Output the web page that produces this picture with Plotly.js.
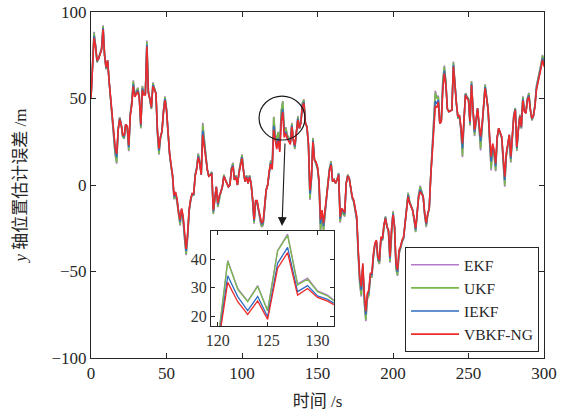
<!DOCTYPE html>
<html>
<head>
<meta charset="utf-8">
<script src="https://cdn.plot.ly/plotly-3.0.1.min.js"></script>
<style>html,body{margin:0;padding:0;background:#fff;}#chart{width:571px;height:416px;}</style>
</head>
<body>
<div id="chart"></div>
<script>
// time stamps (s), one sample per second, 0..300
const timeStart = 0, timeEnd = 300;
const timeSec = [];
for (let k = timeStart; k <= timeEnd; k++) timeSec.push(k);

const seriesNames = ['EKF', 'UKF', 'IEKF', 'VBKF-NG'];
const xTicks = [0, 50, 100, 150, 200, 250, 300];
const yTicks = [-100, -50, 0, 50, 100];
const insetXTicks = [120, 125, 130];
const insetYTicks = [20, 30, 40];

const vbkfNG = [
 50,72,85,80,72,73,75,78,90,75,
 68,72,60,50,42,30,22,18,32,38,
 35,29,29,35,34,23,40,46,57,51,
 53,54,50,35,55,52,52,80,53,50,
 45,57,55,53,32,21,28,31,42,49,
 43,30,19,12,6,-6,-4,-8,-16,-20,
 -13.5,-18,-28,-37,-28,-14,-8,-5,-5,5,
 9,16,12.5,6,29,22,14,9,5,6,
 6.5,-14.5,-6,-1,-10.5,-6,-4,-1,4.8,3,
 1,-1,0,8.7,10.6,3,4.5,0,6.7,11,
 15.4,7.7,2,4.5,1,4.5,1,-7.7,-20,-9,
 -9,-14,-19,-22,-21,-13,-3,0,8,12,
 9,31.9,25.2,20.8,25.5,19.1,36.8,42.2,27.5,29.8,
 26.7,25.4,23.5,33.7,26,23,30,37.6,32.8,35.6,
 45.3,47.2,35.6,33.7,24,-3,4.8,25,14.5,13.5,
 10.6,2.9,-20,-14.5,-22,-14.5,-5,3,8.7,11.6,
 2,3,1,3,5.8,-18.3,-13.5,-14.5,-16,1,
 4.8,4,-3,-6.7,-8.7,-13,-18.3,-37.6,-53,-58.8,
 -45.3,-62.6,-73,-62.6,-60.7,-51,-51,-40,-33.7,-31.8,
 -41.4,-43.4,-30,-31,-23,-19.3,-24,-26,-41.4,-26,
 -17.3,-24,-45.3,-49,-37.6,-35.6,-31.8,-30,-22,-16.4,
 -6.7,-10.6,-12.5,-14.5,-19.3,-25,-16.4,-6.7,-3.9,-5,
 -6.7,-16.4,-22,-16.4,-13.5,4.8,20.2,30,45.3,45,
 48,35.6,36.6,55,64.5,57.8,44,42.4,43,43.4,
 68.4,56.8,47.2,39.5,40.5,33.7,24,37.6,52,50,
 49,36.6,57.8,43.4,31.8,37.6,44.3,35.6,28,35,
 45,55.9,50,43.4,28,16.4,24,20.2,12.5,28,
 32.8,30,28,16.4,4.8,18.3,25,29,16.4,26,
 39.5,43.4,22,32,39.5,33.7,49,42.4,41.5,49,
 51,43.4,38.5,40,45.3,55,58.8,62.6,67.4,72.3,
 68.4
];

const ukf = [
 50,73,88,81,71,73,76,79,92,75,
 67,72,60,49,41,28,18,13,32,39,
 35,28,27,35,33,20,41,48,60,52,
 54,56,51,33,57,53,53,83,54,50,
 44,59,56,53,30,18,27,31,43,51,
 44,30,18,11,5,-8,-5,-10,-18,-23,
 -14.5,-20,-31,-40,-30,-15,-9,-5,-6,6,
 10,18,13.5,6,35,25,15,9,5,6,
 7.5,-16.5,-7,-1,-12.5,-7,-4,-1,5.8,3,
 1,-1,0,9.7,12.6,3,5.5,0,7.7,12,
 17.4,8.7,2,5.5,1,5.5,1,-8.7,-22,-10,
 -10,-15,-21,-24,-23,-14,-3,0,9,14,
 11,39.2,29.5,25.2,30.5,22,42.8,48.2,31,33,
 28.7,27.2,24.5,35.7,26,21,30,39.6,32.8,36.6,
 47.3,49.2,35.6,33.7,23,-8,3.8,27,14.5,12.5,
 9.6,0.9,-26,-17.5,-26,-16.5,-6,3,9.7,13.6,
 2,3,1,3,6.8,-21.3,-15.5,-16.5,-18,1,
 5.8,4,-3,-7.7,-9.7,-15,-20.3,-40.6,-57,-63.8,
 -47.3,-67.6,-78,-65.6,-63.7,-53,-53,-42,-34.7,-32.8,
 -43.4,-45.4,-31,-32,-23,-18.3,-24,-27,-44.4,-26,
 -15.3,-24,-48.3,-52,-39.6,-36.6,-32.8,-31,-22,-16.4,
 -4.7,-9.6,-12.5,-14.5,-20.3,-27,-16.4,-5.7,-0.9,-4,
 -6.7,-17.4,-24,-17.4,-13.5,5.8,22.2,33,53.3,50,
 51,35.6,37.6,60,68.5,59.8,44,42.4,43,43.4,
 70.9,57.8,47.2,38.5,39.5,31.7,17,36.6,53,51,
 50,34.6,59.8,43.4,28.8,36.6,44.3,33.6,21,33,
 45,57.9,51,43.4,25,9.4,21,17.2,8.5,27,
 32.8,30,27,13.4,-0.2,16.3,24,29,13.4,25,
 40.5,44.4,20,32,40.5,32.7,51,43.4,41.5,50,
 53,43.4,37.5,40,46.3,57,60.8,64.6,69.4,74.8,
 71.4
];

const iekf = [
 50,72.4,86.2,80.4,71.6,73,75.4,78.4,90.8,75,
 67.6,72,60,49.6,41.6,29.2,20.4,16,32,38.4,
 35,28.6,28.2,35,33.6,21.8,40.4,46.8,58.2,51.4,
 53.4,54.8,50.4,34.2,55.8,52.4,52.4,81.2,53.4,50,
 44.6,57.8,55.4,53,31.2,19.8,27.6,31,42.4,49.8,
 43.4,30,18.6,11.6,5.6,-6.8,-4.4,-8.8,-16.8,-21.2,
 -13.9,-18.8,-29.2,-38.2,-28.8,-14.4,-8.4,-5,-5.4,5.4,
 9.4,16.8,12.9,6,31.4,23.2,14.4,9,5,6,
 6.9,-15.3,-6.4,-1,-11.3,-6.4,-4,-1,5.2,3,
 1,-1,0,9.1,11.4,3,4.9,0,7.1,11.4,
 16.2,8.1,2,4.9,1,4.9,1,-8.1,-20.8,-9.4,
 -9.4,-14.4,-19.8,-22.8,-21.8,-13.4,-3,0,8.4,12.8,
 9.8,34.2,27,22.1,27,20,38.5,44,28.7,30.8,
 27.2,26,24,34.5,26,22.2,30,38.4,32.8,36,
 46.1,48,35.6,33.7,23.6,-5,4.4,25.8,14.5,13.1,
 10.2,2.1,-22.4,-15.7,-23.6,-15.3,-5.4,3,9.1,12.4,
 2,3,1,3,6.2,-19.5,-14.3,-15.3,-16.8,1,
 5.2,4,-3,-7.1,-9.1,-13.8,-19.1,-38.8,-54.6,-60.8,
 -46.1,-64.6,-75,-63.8,-61.9,-51.8,-51.8,-40.8,-34.1,-32.2,
 -42.2,-44.2,-30.4,-31.4,-23,-18.9,-24,-26.4,-42.6,-26,
 -16.5,-24,-46.5,-50.2,-38.4,-36,-32.2,-30.4,-22,-16.4,
 -5.9,-10.2,-12.5,-14.5,-19.7,-25.8,-16.4,-6.3,-2.7,-4.6,
 -6.7,-16.8,-22.8,-16.8,-13.5,5.2,21,31.2,48.5,47,
 49.2,35.6,37,57,66.1,58.6,44,42.4,43,43.4,
 69.4,57.2,47.2,39.1,40.1,32.9,21.2,37.2,52.4,50.4,
 49.4,35.8,58.6,43.4,30.6,37.2,44.3,34.8,25.2,34.2,
 45,56.7,50.4,43.4,26.8,13.6,22.8,19,10.9,27.6,
 32.8,30,27.6,15.2,2.8,17.5,24.6,29,15.2,25.6,
 39.9,43.8,21.2,32,39.9,33.3,49.8,42.8,41.5,49.4,
 51.8,43.4,38.1,40,45.7,55.8,59.6,63.4,68.2,73.3,
 69.6
];

const ekf = [
 50,73.2,88.5,81.2,70.8,73,76.2,79.2,92.3,75,
 66.8,72,60,48.8,40.8,27.7,17.4,12.3,32,39.2,
 35,27.8,26.7,35,32.8,19.5,41.2,48.3,60.5,52.2,
 54.2,56.3,51.2,32.7,57.3,53.2,53.2,83.5,54.2,50,
 43.8,59.3,56.2,53,29.7,17.5,26.8,31,43.2,51.3,
 44.2,30,17.8,10.8,4.8,-8.3,-5.2,-10.3,-18.3,-23.5,
 -14.7,-20.3,-31.5,-40.5,-30.3,-15.2,-9.2,-5,-6.2,6.2,
 10.2,18.3,13.7,6,35.9,25.5,15.2,9,5,6,
 7.7,-16.8,-7.2,-1,-12.8,-7.2,-4,-1,6,3,
 1,-1,0,9.9,12.9,3,5.7,0,7.9,12.2,
 17.7,8.9,2,5.7,1,5.7,1,-8.9,-22.3,-10.2,
 -10.2,-15.2,-21.3,-24.3,-23.3,-14.2,-3,0,9.2,14.3,
 11.3,39.5,29.8,25.4,30.8,22.2,43,48.6,31.4,33.4,
 29,27.5,24.8,36,26,20.7,30,39.9,32.8,36.8,
 47.6,49.5,35.6,33.7,22.8,-8.7,3.6,27.3,14.5,12.3,
 9.4,0.6,-26.9,-18,-26.6,-16.8,-6.2,3,9.9,13.9,
 2,3,1,3,7,-21.8,-15.8,-16.8,-18.3,1,
 6,4,-3,-7.9,-9.9,-15.3,-20.6,-41.1,-57.6,-64.5,
 -47.6,-68.3,-78.7,-66,-64.1,-53.3,-53.3,-42.3,-34.9,-33,
 -43.7,-45.7,-31.2,-32.2,-23,-18.1,-24,-27.2,-44.9,-26,
 -15,-24,-48.8,-52.5,-39.9,-36.8,-33,-31.2,-22,-16.4,
 -4.4,-9.4,-12.5,-14.5,-20.5,-27.3,-16.4,-5.5,-0.4,-3.8,
 -6.7,-17.6,-24.3,-17.6,-13.5,6,22.5,33.5,54.5,50.8,
 51.5,35.6,37.8,60.8,69.1,60.1,44,42.4,43,43.4,
 71.3,58,47.2,38.3,39.3,31.4,16,36.4,53.2,51.2,
 50.2,34.3,60.1,43.4,28.3,36.4,44.3,33.3,20,32.7,
 45,58.2,51.2,43.4,24.5,8.4,20.5,16.7,7.9,26.8,
 32.8,30,26.8,12.9,-1,16,23.8,29,12.9,24.8,
 40.7,44.6,19.7,32,40.7,32.5,51.3,43.6,41.5,50.2,
 53.3,43.4,37.3,40,46.5,57.3,61.1,64.9,69.7,75.2,
 71.9
];

const colors = ['#B27AC9', '#77B94A', '#2E6DC1', '#EE2A2A'];
const seriesData = [ekf, ukf, iekf, vbkfNG];

const traces = [];
seriesData.forEach((ys, i) => {
  traces.push({x: timeSec, y: ys, type: 'scatter', mode: 'lines', name: seriesNames[i],
    line: {color: colors[i], width: 1.6}, xaxis: 'x', yaxis: 'y'});
});
seriesData.forEach((ys, i) => {
  traces.push({x: timeSec, y: ys, type: 'scatter', mode: 'lines', name: seriesNames[i],
    showlegend: false, line: {color: colors[i], width: 1.3}, xaxis: 'x2', yaxis: 'y2'});
});

const axisCommon = {
  showline: true, linecolor: '#262626', linewidth: 1, mirror: 'ticks',
  ticks: 'inside', ticklen: 5, tickwidth: 1, tickcolor: '#262626',
  showgrid: false, zeroline: false, tickfont: {size: 17, color: '#262626'}
};

const layout = {
  width: 571, height: 416,
  margin: {l: 91, r: 27, t: 12, b: 58},
  paper_bgcolor: '#fff', plot_bgcolor: '#fff',
  font: {family: 'Liberation Serif, Noto Sans CJK SC, serif', size: 17, color: '#262626'},
  showlegend: true,
  xaxis: Object.assign({}, axisCommon, {range: [0, 300], tickvals: xTicks, domain: [0, 1],
    title: {text: '时间 /s', standoff: 12, font: {size: 17}}}),
  yaxis: Object.assign({}, axisCommon, {range: [-100, 100], tickvals: yTicks, domain: [0, 1],
    title: {text: '<i>y</i> 轴位置估计误差 /m', standoff: 20, font: {size: 17}}}),
  xaxis2: Object.assign({}, axisCommon, {range: [119.33, 131.63], tickvals: insetXTicks,
    domain: [0.265, 0.536], anchor: 'y2', ticklen: 4, tickfont: {size: 16, color: '#333'}}),
  yaxis2: Object.assign({}, axisCommon, {range: [16.8, 49.7], tickvals: insetYTicks,
    domain: [0.0925, 0.367], anchor: 'x2', ticklen: 4, tickfont: {size: 16, color: '#333'}}),
  legend: {x: 0.989, xanchor: 'right', y: 0.017, yanchor: 'bottom',
    bordercolor: '#262626', borderwidth: 1, bgcolor: '#fff',
    font: {size: 15.5, color: '#262626'}, tracegroupgap: 0, itemwidth: 48},
  shapes: [{type: 'circle', xref: 'x', yref: 'y', x0: 111.3, x1: 141.7, y0: 26, y1: 51.4,
    line: {color: '#1a1a1a', width: 1.2}}],
  annotations: [{xref: 'x', yref: 'y', x: 126.5, y: -23.7, ax: 3, ay: -84, text: '',
    showarrow: true, arrowhead: 2, arrowsize: 1.6, arrowwidth: 1.1, arrowcolor: '#1a1a1a', standoff: 0}]
};

Plotly.newPlot('chart', traces, layout, {displayModeBar: false, staticPlot: true});
</script>
</body>
</html>
